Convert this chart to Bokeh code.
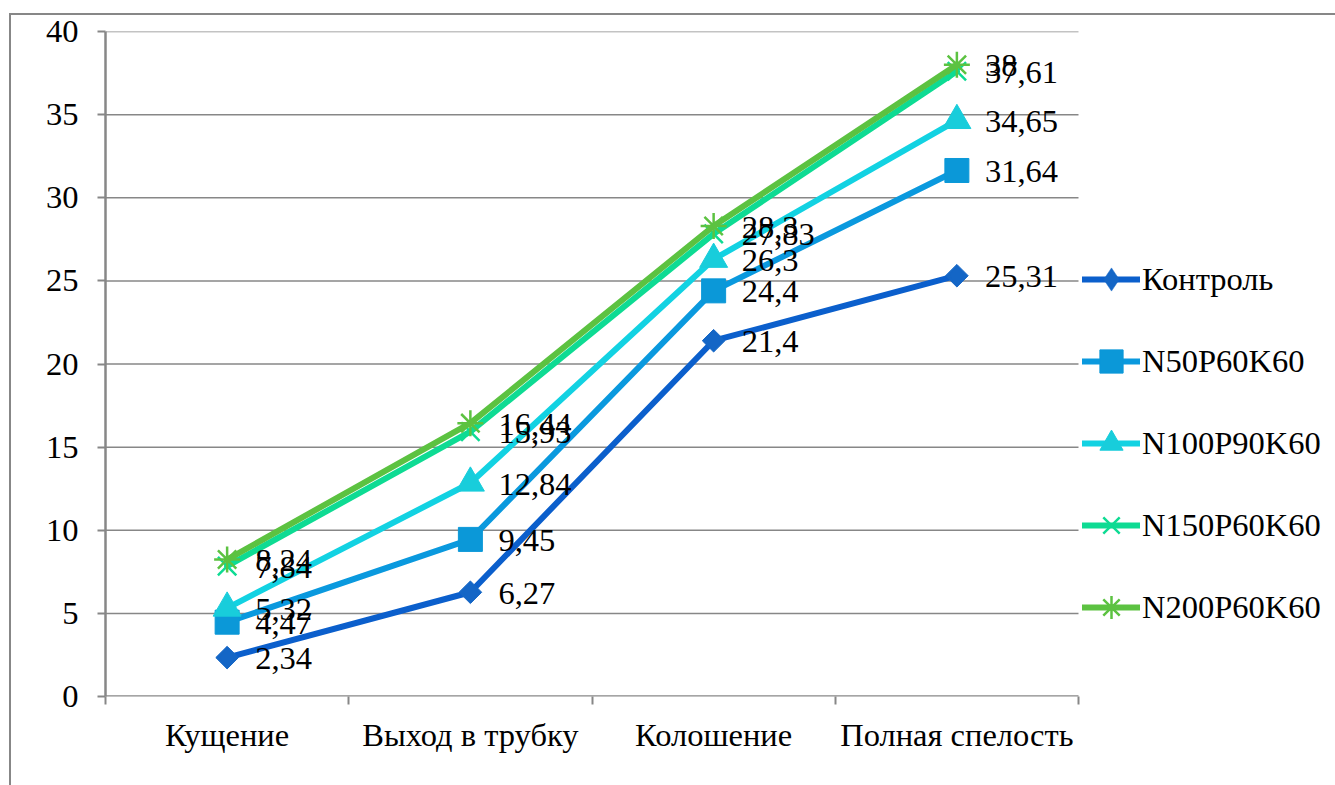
from bokeh.plotting import figure
from bokeh.models import (Range1d, FixedTicker, Legend, LegendItem, ColumnDataSource,
                          InlineStyleSheet)
from bokeh.core.properties import value
from bokeh.embed import file_html
from bokeh.resources import INLINE
import math

categories = ["Кущение", "Выход в трубку", "Колошение", "Полная спелость"]
series_names = ["Контроль", "N50P60K60", "N100P90K60", "N150P60K60", "N200P60K60"]
kontrol = [2.34, 6.27, 21.4, 25.31]
n50 = [4.47, 9.45, 24.4, 31.64]
n100 = [5.32, 12.84, 26.3, 34.65]
n150 = [7.84, 15.93, 27.83, 37.61]
n200 = [8.24, 16.44, 28.3, 38]
y_ticks = [0, 5, 10, 15, 20, 25, 30, 35, 40]

series_values = [kontrol, n50, n100, n150, n200]
line_colors = ["#0B5FCC", "#0A99DE", "#12D2E2", "#0EDB93", "#5CC241"]
marker_colors = ["#1466C6", "#0B98D8", "#18CDDB", "#0EDB93", "#5CC241"]

FONT = "Liberation Serif"
FS = "32.5px"
GRAY = "#878787"

W, H = 1335, 785
LEFT, TOP, BOTTOM = 105, 31, 89
PLOT_RIGHT = 1078          # right edge of the plotting area (px)
n = len(categories)
x_end = n * (W - LEFT) / (PLOT_RIGHT - LEFT)   # frame extends under the legend

p = figure(width=W, height=H, output_backend="svg", toolbar_location=None,
           x_range=Range1d(0, x_end), y_range=Range1d(0, 40),
           min_border_left=LEFT, min_border_right=0, min_border_top=TOP,
           min_border_bottom=BOTTOM)
p.outline_line_color = None
p.background_fill_color = "white"
p.border_fill_color = "white"

# outer chart-area border (top and left edges visible)
p.stylesheets = [InlineStyleSheet(css=(
    ":host::after { content: ''; position: absolute; left: 9px; top: 13px; "
    "right: 0px; bottom: 0px; border-left: 2px solid #878787; "
    "border-top: 2px solid #878787; pointer-events: none; z-index: 10; }"
))]

# x axis
xt = [i + 0.5 for i in range(n)]
p.xaxis.ticker = FixedTicker(ticks=xt, minor_ticks=list(range(n + 1)))
p.xaxis.major_label_overrides = {t: c for t, c in zip(xt, categories)}
p.xaxis.major_tick_out = 0
p.xaxis.major_tick_in = 0
p.xaxis.minor_tick_out = 8
p.xaxis.minor_tick_in = 0
p.xaxis.minor_tick_line_color = GRAY
p.xaxis.minor_tick_line_width = 2
p.xaxis.axis_line_color = None
p.xaxis.major_label_standoff = 12
p.xaxis.major_label_text_font = FONT
p.xaxis.major_label_text_font_size = FS
p.xaxis.major_label_text_color = "black"

# y axis
p.yaxis.ticker = FixedTicker(ticks=y_ticks)
p.yaxis.major_tick_out = 8
p.yaxis.major_tick_in = 0
p.yaxis.major_tick_line_color = GRAY
p.yaxis.major_tick_line_width = 2
p.yaxis.minor_tick_line_color = None
p.yaxis.axis_line_color = GRAY
p.yaxis.axis_line_width = 2.5
p.yaxis.major_label_standoff = 19
p.yaxis.major_label_text_font = FONT
p.yaxis.major_label_text_font_size = FS
p.yaxis.major_label_text_color = "black"

p.xgrid.visible = False
p.ygrid.visible = False

# horizontal gridlines limited to the plotting area, and the category axis line
gy = [t for t in y_ticks if t > 0]
p.segment(x0=[0] * len(gy), x1=[n] * len(gy), y0=gy, y1=gy,
          line_color=GRAY, line_width=1.5)
p.segment(x0=[0], x1=[n], y0=[0], y1=[0], line_color=GRAY, line_width=2.5)

items = []
for i, (name, vals) in enumerate(zip(series_names, series_values)):
    src = ColumnDataSource(dict(x=xt, y=vals))
    ln = p.line("x", "y", source=src, line_color=line_colors[i], line_width=6,
                line_cap="round", line_join="round")
    mc = marker_colors[i]
    if i == 0:
        p.scatter("x", "y", source=src, marker="square", size=16, angle=math.pi / 4,
                  fill_color=mc, line_color=mc, line_width=1)
        # diamond drawn inside the rotated square; it provides the legend glyph
        mk = p.scatter("x", "y", source=src, marker="diamond", size=21,
                       fill_color=mc, line_color=mc, line_width=0.5)
    elif i == 1:
        mk = p.scatter("x", "y", source=src, marker="square", size=24,
                       fill_color=mc, line_color=mc, line_width=1)
    elif i == 2:
        mk = p.scatter("x", "y", source=src, marker="triangle", size=28,
                       fill_color=mc, line_color=mc, line_width=1)
    elif i == 3:
        mk = p.scatter("x", "y", source=src, marker="x", size=26,
                       line_color=mc, line_width=2.5)
    else:
        mk = p.scatter("x", "y", source=src, marker="asterisk", size=26,
                       line_color=mc, line_width=2.5)
    items.append(LegendItem(label=name, renderers=[ln, mk]))

for i, vals in enumerate(series_values):
    src = ColumnDataSource(dict(x=xt, y=vals,
                                lbl=[f"{v:g}".replace(".", ",") for v in vals]))
    p.text("x", "y", text="lbl", source=src, x_offset=28, y_offset=1,
           text_align="left", text_baseline="middle",
           text_font=value(FONT), text_font_size=FS, text_color="black")

legend = Legend(items=items, location=(1082 - LEFT, 59), orientation="vertical")
legend.label_text_font = FONT
legend.label_text_font_size = FS
legend.label_text_color = "black"
legend.glyph_width = 58
legend.glyph_height = 60
legend.label_height = 60
legend.label_standoff = 2
legend.spacing = 22
legend.padding = 0
legend.margin = 0
legend.border_line_color = None
legend.background_fill_alpha = 0
p.add_layout(legend, "center")

open("out.html", "w").write(file_html(p, INLINE))
